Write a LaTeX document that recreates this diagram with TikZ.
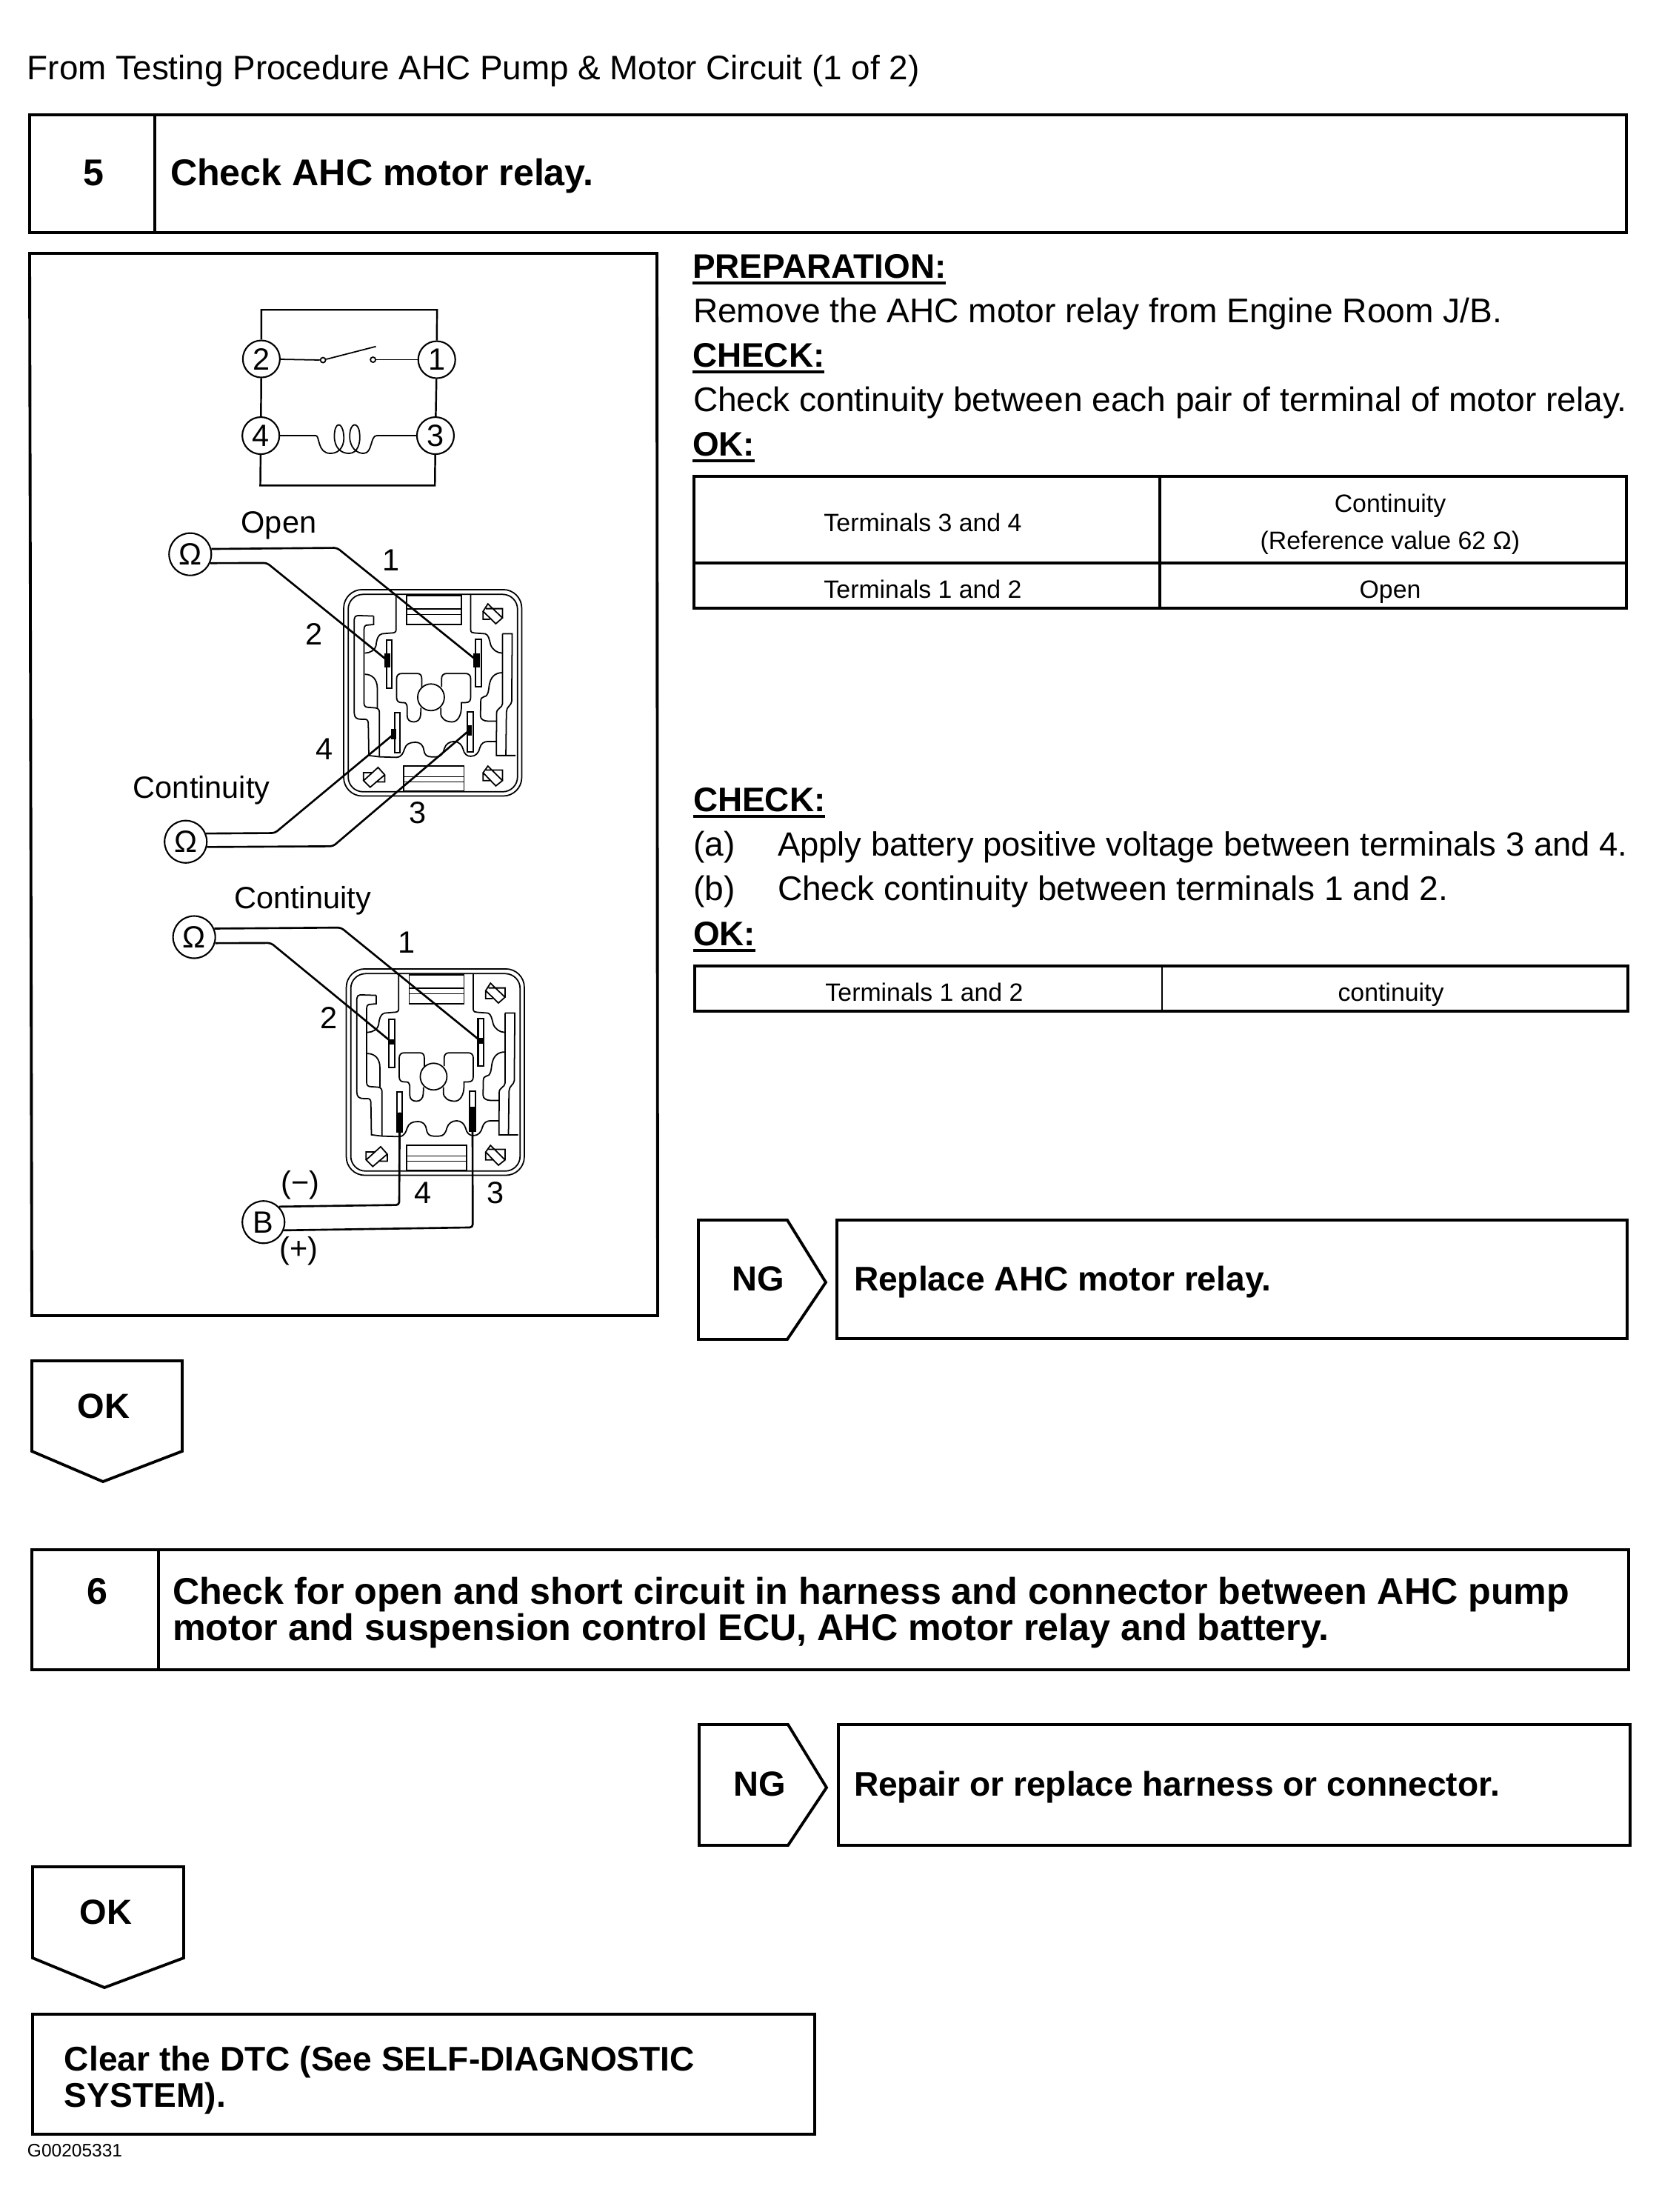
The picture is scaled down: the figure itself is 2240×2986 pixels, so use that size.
\documentclass[tikz,border=0pt]{standalone}
\usepackage{fontspec}
\setmainfont{Liberation Sans}
\newcommand{\fa}{\fontsize{13.12pt}{15pt}\selectfont}
\newcommand{\ft}{\fontsize{13.03pt}{15pt}\selectfont}
\newcommand{\fj}{\fontsize{12.9pt}{15pt}\selectfont}
\newcommand{\fb}{\fontsize{13.05pt}{15pt}\selectfont\bfseries}
\newcommand{\fc}{\fontsize{14.28pt}{16pt}\selectfont\bfseries}
\newcommand{\fh}{\fontsize{13.12pt}{16pt}\selectfont\bfseries}
\newcommand{\fd}{\fontsize{13.37pt}{16pt}\selectfont\bfseries}
\newcommand{\fe}{\fontsize{9.62pt}{11pt}\selectfont}
\newcommand{\ff}{\fontsize{6.97pt}{8pt}\selectfont}
\newcommand{\fg}{\fontsize{11.8pt}{13pt}\selectfont}
\tikzset{
  txt/.style={inner sep=0pt,outer sep=0pt,anchor=base west},
  ctr/.style={inner sep=0pt,outer sep=0pt,anchor=base},
  boxline/.style={line width=1.1pt,line join=miter},
  thinbox/.style={line width=0.8pt},
  term/.style={circle,draw,line width=0.6pt,minimum size=0.5cm,inner sep=0pt,font=\fg},
  meter/.style={circle,draw,line width=0.6pt,minimum size=0.57cm,inner sep=0pt,font=\fg},
  wire/.style={line width=0.75pt,rounded corners=0.04cm},
  schem/.style={line width=0.7pt},
  relayline/.style={line width=0.5pt},
  ul/.style={line width=1.1pt}
}
\newcommand{\headline}[4]{% name, x, baseline, text
  \node[txt,font=\fb] (#1) at (#2,#3) {#4};
  \draw[ul] ([yshift=-0.07cm]#1.base west) -- ([yshift=-0.07cm]#1.base east);
}
\newcommand{\relaybody}{
  \draw[relayline,rounded corners=0.25cm] (805,358) rectangle (1478,1138);
  \draw[relayline,rounded corners=0.2cm] (822,376) rectangle (1462,1122);
  % terminal blocks
  \draw[relayline] (1043,380) rectangle (1250,490) (1043,430) -- (1250,430) (1043,452) -- (1250,452);
  \draw[relayline] (1032,1025) rectangle (1260,1118) (1032,1065) -- (1260,1065) (1032,1085) -- (1260,1085);
  % top contours
  \draw[relayline] (1003,378) -- (1003,510) .. controls (1003,520) and (995,522) .. (985,522) -- (950,525) .. controls (935,528) and (930,545) .. (927,570) .. controls (925,585) and (905,598) .. (885,598);
  \draw[relayline] (1285,378) -- (1285,510) .. controls (1285,520) and (1292,522) .. (1300,522) -- (1340,525) .. controls (1352,528) and (1355,545) .. (1360,565) .. controls (1366,585) and (1385,598) .. (1405,598);
  % left strip
  \draw[relayline] (918,458) -- (858,456) .. controls (850,456) and (845,462) .. (845,470) -- (845,825) .. controls (845,842) and (855,848) .. (870,848) -- (885,848) .. controls (895,848) and (898,855) .. (898,865) -- (900,985) -- (940,990);
  \draw[relayline] (918,458) -- (918,490) -- (895,492) .. controls (886,492) and (882,498) .. (882,508) -- (882,788) .. controls (882,798) and (888,803) .. (898,803) -- (925,805) .. controls (935,806) and (940,812) .. (940,822) -- (940,990);
  % bottom wave
  \draw[relayline] (940,990) -- (1005,992) .. controls (1025,990) and (1030,975) .. (1035,960) .. controls (1040,942) and (1055,935) .. (1075,935) .. controls (1095,935) and (1105,945) .. (1108,965) .. controls (1110,982) and (1120,990) .. (1135,990) -- (1155,990) .. controls (1172,990) and (1180,980) .. (1185,960) .. controls (1190,942) and (1205,932) .. (1222,932) .. controls (1240,932) and (1252,945) .. (1256,960) .. controls (1260,978) and (1270,988) .. (1285,988) .. controls (1305,988) and (1315,975) .. (1320,955) .. controls (1324,940) and (1335,932) .. (1350,932) -- (1382,932);
  % right strip
  \draw[relayline] (1405,525) -- (1442,525) -- (1440,780) .. controls (1440,795) and (1420,800) .. (1420,820) -- (1418,985);
  \draw[relayline] (1405,525) -- (1405,790) .. controls (1405,805) and (1383,805) .. (1383,825) -- (1382,985) -- (1455,985);
  % middle contours
  \draw[relayline] (1405,672) .. controls (1375,672) and (1360,690) .. (1355,720) .. controls (1352,745) and (1350,762) .. (1335,763) .. controls (1327,764) and (1323,770) .. (1323,780) -- (1322,835) .. controls (1322,848) and (1335,855) .. (1350,855) -- (1382,855);
  \draw[relayline] (885,678) .. controls (915,678) and (932,700) .. (932,730) -- (932,805);
  % centre
  \draw[relayline] (1100,730) -- (1100,695) .. controls (1100,682) and (1095,675) .. (1082,675) -- (1025,675) .. controls (1012,675) and (1005,682) .. (1005,695) -- (1005,765) .. controls (1005,780) and (1012,785) .. (1025,785) -- (1032,785) .. controls (1042,785) and (1045,795) .. (1045,805) -- (1045,835) .. controls (1045,850) and (1055,858) .. (1070,858) .. controls (1085,858) and (1095,848) .. (1096,830) -- (1097,805);
  \draw[relayline] (1175,725) -- (1175,695) .. controls (1175,682) and (1182,675) .. (1195,675) -- (1265,675) .. controls (1278,675) and (1285,682) .. (1285,695) -- (1285,765) .. controls (1285,780) and (1278,785) .. (1265,785) -- (1250,785) -- (1250,800) .. controls (1250,835) and (1235,858) .. (1215,858) .. controls (1190,858) and (1172,845) .. (1172,825) -- (1172,805);
  \draw[relayline] (1135,765) circle [radius=0.18cm];
  % corner diamonds
  \draw[relayline] (1350,412) -- (1405,465) -- (1380,487) -- (1332,440) -- cycle (1343,430) -- (1405,430) -- (1405,465) (1332,440) -- (1332,470) -- (1358,470);
  \draw[relayline] (1350,1025) -- (1405,1080) -- (1380,1100) -- (1332,1050) -- cycle (1343,1040) -- (1405,1040) -- (1405,1080) (1332,1050) -- (1332,1080) -- (1358,1080);
  \draw[relayline] (935,1030) -- (960,1058) -- (905,1105) -- (880,1080) -- cycle (880,1080) -- (880,1050) -- (915,1050) (960,1058) -- (960,1085) -- (925,1085);
  % pins
  \draw[relayline,line width=0.6pt] (967,548) rectangle (988,730);
  \draw[relayline,line width=0.6pt] (1303,545) rectangle (1325,725);
  \draw[relayline,line width=0.6pt] (997,822) rectangle (1017,975);
  \draw[relayline,line width=0.6pt] (1272,820) rectangle (1294,972);
}
\begin{document}
\begin{tikzpicture}[x=0.01cm,y=-0.01cm]
\useasboundingbox[fill=white] (0,0) rectangle (2240,2986);
% title
\node[txt,font=\ft] (title) at (37,107) {From Testing Procedure AHC Pump \& Motor Circuit (1 of 2)};
% step 5
\draw[boxline] (40,155) rectangle (2196,314) (209,155) -- (209,314);
\node[ctr,font=\fc] (n5) at (126,250) {5};
\node[txt,font=\fc] (s5) at (230,250) {Check AHC motor relay.};
% left panel
\draw[boxline] (40,342) -- (887,342) -- (888,1776) -- (43,1776) -- cycle;
% right text
\headline{prep}{935}{375}{PREPARATION:}
\node[txt,font=\fa] (rem) at (936,435) {Remove the AHC motor relay from Engine Room J/B.};
\headline{chk1}{935}{495}{CHECK:}
\node[txt,font=\fa] (cont) at (936,555) {Check continuity between each pair of terminal of motor relay.};
\headline{ok1}{935}{615}{OK:}
% table 1
\draw[boxline] (937,643) rectangle (2196,821) (937,760) -- (2196,760) (1566,643) -- (1566,821);
\node[ctr,font=\fe] (t11) at (1246,717) {Terminals 3 and 4};
\node[ctr,font=\fe] (t12) at (1877,691) {Continuity};
\node[ctr,font=\fe] (t13) at (1877,741) {(Reference value 62 Ω)};
\node[ctr,font=\fe] (t21) at (1246,807) {Terminals 1 and 2};
\node[ctr,font=\fe] (t22) at (1877,807) {Open};
% check 2
\headline{chk2}{936}{1095}{CHECK:}
\node[txt,font=\fa] (a1) at (936,1155) {(a)};
\node[txt,font=\fj] (a2) at (1050,1155) {Apply battery positive voltage between terminals 3 and 4.};
\node[txt,font=\fa] (b1) at (936,1215) {(b)};
\node[txt,font=\fa] (b2) at (1050,1215) {Check continuity between terminals 1 and 2.};
\headline{ok2}{936}{1276}{OK:}
\draw[boxline] (938,1304) rectangle (2198,1365);
\draw[thinbox] (1569,1304) -- (1569,1365);
\node[ctr,font=\fe] (t31) at (1248,1351) {Terminals 1 and 2};
\node[ctr,font=\fe] (t32) at (1878,1351) {continuity};
% NG 1
\draw[boxline] (943,1647) -- (1063,1647) -- (1115,1731) -- (1063,1808) -- (943,1808) -- cycle;
\node[ctr,font=\fd] (ng1) at (1024,1742) {NG};
\draw[boxline] (1130,1647) rectangle (2197,1807);
\node[txt,font=\fh] (rep1) at (1153,1742) {Replace AHC motor relay.};
% OK 1
\draw[boxline] (43,1837) -- (246,1837) -- (246,1959) -- (139,2000) -- (43,1959) -- cycle;
\node[ctr,font=\fd] (okl1) at (140,1914) {OK};
% step 6
\draw[boxline] (43,2092) rectangle (2199,2254) (214,2092) -- (214,2254);
\node[ctr,font=\fc] (n6) at (131,2165) {6};
\node[txt,font=\fc] (s6a) at (233,2165) {Check for open and short circuit in harness and connector between AHC pump};
\node[txt,font=\fc] (s6b) at (233,2214) {motor and suspension control ECU, AHC motor relay and battery.};
% NG 2
\draw[boxline] (944,2328) -- (1064,2328) -- (1116,2413) -- (1064,2491) -- (944,2491) -- cycle;
\node[ctr,font=\fd] (ng2) at (1026,2424) {NG};
\draw[boxline] (1132,2328) rectangle (2201,2491);
\node[txt,font=\fh] (rep2) at (1153,2424) {Repair or replace harness or connector.};
% OK 2
\draw[boxline] (44,2520) -- (248,2520) -- (248,2643) -- (141,2683) -- (44,2643) -- cycle;
\node[ctr,font=\fd] (okl2) at (143,2597) {OK};
% clear
\draw[boxline] (44,2719) rectangle (1100,2881);
\node[txt,font=\fh] (cl1) at (87,2795) {Clear the DTC (See SELF-DIAGNOSTIC};
\node[txt,font=\fh] (cl2) at (87,2844) {SYSTEM).};
\node[txt,font=\ff] (gid) at (37,2911) {G00205331};

% schematic and first relay wiring, in crop coordinates
\begin{scope}[shift={(180,380)},x=0.003571cm,y=-0.005102cm]
  \node[term] (c2) at (484,205) {2};
  \node[term] (c1) at (1147,207) {1};
  \node[term] (c4) at (482,408) {4};
  \node[term] (c3) at (1142,408) {3};
  \draw[schem] (c2) -- (484,75) -- (1148,75) -- (c1);
  \draw[schem] (c4) -- (480,540) -- (1140,540) -- (c3);
  \draw[schem] (c2) -- (c4);
  \draw[schem] (c1) -- (c3);
  \node[circle,draw,line width=0.5pt,minimum size=0.07cm,inner sep=0pt] (swa) at (717,208) {};
  \node[circle,draw,line width=0.5pt,minimum size=0.07cm,inner sep=0pt] (swb) at (906,207) {};
  \coordinate (swtip) at (917,172);
  \draw[schem,line width=0.5pt] (c2) -- (swa);
  \draw[schem,line width=0.5pt] (swa) -- (swtip);
  \draw[schem,line width=0.5pt] (swb) -- (c1);
  \draw[schem,line width=0.5pt] (c4) -- (690,408)
     .. controls (705,408) and (695,455) .. (745,455)
     .. controls (785,455) and (800,430) .. (795,405)
     .. controls (790,370) and (760,370) .. (760,410)
     .. controls (760,440) and (785,455) .. (815,455)
     .. controls (850,455) and (860,425) .. (855,400)
     .. controls (850,370) and (818,372) .. (818,410)
     .. controls (818,440) and (845,455) .. (870,455)
     .. controls (905,455) and (895,408) .. (920,408)
     -- (c3);
  \node[ctr,font=\fg] (lopen) at (550,665) {Open};
  \node[ctr,font=\fg] (lc1) at (258,1368) {Continuity};
  \node[ctr,font=\fg] (l1) at (975,765) {1};
  \node[ctr,font=\fg] (l2) at (683,962) {2};
  \node[ctr,font=\fg] (l4) at (723,1265) {4};
  \node[ctr,font=\fg] (l3) at (1075,1435) {3};
  \node[meter] (om1) at (215,722) {Ω};
  \node[meter] (om2) at (198,1483) {Ω};
  \coordinate (p1a) at (1298,1003);
  \coordinate (p2a) at (960,1003);
  \coordinate (p4a) at (985,1198);
  \coordinate (p3a) at (1270,1188);
\end{scope}
\begin{scope}[shift={(176.5,668)},x=0.003571cm,y=-0.003571cm]
  \relaybody
\end{scope}
\begin{scope}[shift={(180,380)},x=0.003571cm,y=-0.005102cm]
  \draw[wire] (om1.14) -- (770,705) -- (p1a);
  \draw[wire] (om1.-24) -- (505,745) -- (p2a);
  \draw[wire] (om2.22) -- (535,1460) -- (p4a);
  \draw[wire] (om2.-14) -- (755,1495) -- (p3a);
  \fill (p1a) ++(-12,-18) rectangle ++(24,36);
  \fill (p2a) ++(-12,-18) rectangle ++(24,36);
  \fill (p4a) ++(-10,-14) rectangle ++(20,28);
  \fill (p3a) ++(-10,-14) rectangle ++(20,28);
\end{scope}
% second relay
\begin{scope}[shift={(180,1180)},x=0.003571cm,y=-0.003571cm]
  \relaybody
  \node[ctr,font=\fg] (lc2) at (640,130) {Continuity};
  \node[ctr,font=\fg] (m1) at (1032,297) {1};
  \node[ctr,font=\fg] (m2) at (740,585) {2};
  \node[ctr,font=\fg] (m4) at (1095,1245) {4};
  \node[ctr,font=\fg] (m3) at (1368,1245) {3};
  \node[ctr,font=\fg] (mm) at (632,1205) {(−)};
  \node[ctr,font=\fg] (mp) at (625,1455) {(+)};
  \node[meter] (om3) at (230,238) {Ω};
  \node[meter] (batt) at (492,1315) {B};
  \coordinate (p1b) at (1312,630);
  \coordinate (p2b) at (977,635);
  \coordinate (p4b) at (1007,900);
  \coordinate (p3b) at (1282,880);
  \draw[wire] (om3.23) -- (785,202) -- (p1b);
  \draw[wire] (om3.-16) -- (520,260) -- (p2b);
  \draw[wire] (batt.45) -- (1005,1250) -- (p4b);
  \draw[wire] (batt.-22) -- (1283,1335) -- (p3b);
  \fill (p1b) ++(-10,-10) rectangle ++(20,20);
  \fill (p2b) ++(-10,-10) rectangle ++(20,20);
  \fill (1000,900) rectangle (1015,975);
  \fill (1275,880) rectangle (1290,970);
\end{scope}
\end{tikzpicture}
\end{document}
